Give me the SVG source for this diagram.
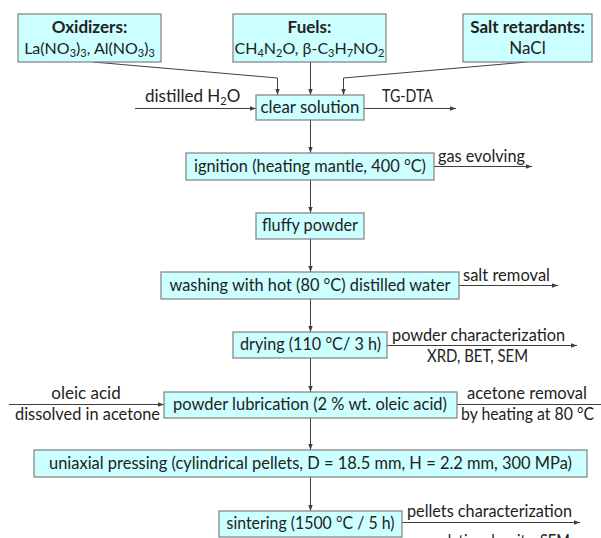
<svg xmlns="http://www.w3.org/2000/svg" width="601" height="538" viewBox="0 0 601 538">
<style>
.box{fill:#ccffff;stroke:#7f7f7f;stroke-width:1.2}
.t{font-family:Lato,"Open Sans","Liberation Sans",sans-serif;font-size:17px;fill:#222222}
.f{font-size:16px}
.b{font-weight:bold}
.m{text-anchor:middle}
.c{fill:none;stroke:#404040;stroke-width:1}
.s{font-size:11px}
</style>
<defs>
<marker id="ah" markerWidth="6" markerHeight="6" refX="6" refY="3" orient="auto" markerUnits="userSpaceOnUse">
<path d="M0,0.8 L6,3 L0,5.2 z" fill="#404040"/>
</marker>
</defs>
<rect width="601" height="538" fill="#ffffff"/>

<g id="connectors">
<polyline class="c" points="93,62 277.5,78 277.5,95" marker-end="url(#ah)"/>
<line class="c" x1="310.5" y1="62" x2="310.5" y2="95" marker-end="url(#ah)"/>
<polyline class="c" points="527,62 343.5,78 343.5,95" marker-end="url(#ah)"/>
<line class="c" x1="135" y1="108.5" x2="256" y2="108.5" marker-end="url(#ah)"/>
<line class="c" x1="364" y1="108.5" x2="456" y2="108.5" marker-end="url(#ah)"/>
<line class="c" x1="310.5" y1="120" x2="310.5" y2="153" marker-end="url(#ah)"/>
<line class="c" x1="434" y1="166.5" x2="532" y2="166.5" marker-end="url(#ah)"/>
<line class="c" x1="310.5" y1="180" x2="310.5" y2="213" marker-end="url(#ah)"/>
<line class="c" x1="310.5" y1="239" x2="310.5" y2="272" marker-end="url(#ah)"/>
<line class="c" x1="459" y1="285.5" x2="558" y2="285.5" marker-end="url(#ah)"/>
<line class="c" x1="310.5" y1="299" x2="310.5" y2="332" marker-end="url(#ah)"/>
<line class="c" x1="387" y1="345.5" x2="577" y2="345.5" marker-end="url(#ah)"/>
<line class="c" x1="310.5" y1="358" x2="310.5" y2="392" marker-end="url(#ah)"/>
<line class="c" x1="9" y1="404.5" x2="164" y2="404.5" marker-end="url(#ah)"/>
<line class="c" x1="457" y1="404.5" x2="601" y2="404.5"/>
<line class="c" x1="310.5" y1="418" x2="310.5" y2="450" marker-end="url(#ah)"/>
<line class="c" x1="310.5" y1="477" x2="310.5" y2="511" marker-end="url(#ah)"/>
<line class="c" x1="402" y1="522.5" x2="580" y2="522.5" marker-end="url(#ah)"/>
</g>

<g id="labels">
<text class="t" x="145" y="102">distilled H<tspan class="s" dy="3">2</tspan><tspan dy="-3">O</tspan></text>
<text class="t" x="382" y="102" textLength="51" lengthAdjust="spacingAndGlyphs">TG-DTA</text>
<text class="t" x="438" y="162" textLength="87" lengthAdjust="spacingAndGlyphs">gas evolving</text>
<text class="t" x="463" y="281" textLength="87" lengthAdjust="spacingAndGlyphs">salt removal</text>
<text class="t" x="392" y="341" textLength="173" lengthAdjust="spacingAndGlyphs">powder characterization</text>
<text class="t" x="427" y="362" textLength="101" lengthAdjust="spacingAndGlyphs">XRD, BET, SEM</text>
<text class="t m" x="86" y="399">oleic acid</text>
<text class="t" x="15" y="420" textLength="145" lengthAdjust="spacingAndGlyphs">dissolved in acetone</text>
<text class="t" x="467" y="399" textLength="120" lengthAdjust="spacingAndGlyphs">acetone removal</text>
<text class="t" x="461" y="420" textLength="133" lengthAdjust="spacingAndGlyphs">by heating at 80 °C</text>
<text class="t" x="407" y="517" textLength="165" lengthAdjust="spacingAndGlyphs">pellets characterization</text>
<text class="t" x="435" y="547" textLength="135" lengthAdjust="spacingAndGlyphs">relative density, SEM</text>
</g>

<g id="oxidizers">
<rect class="box" x="18" y="14" width="143" height="48"/>
<text class="t b m" x="89.5" y="33">Oxidizers:</text>
<text class="t f m" x="89.5" y="54">La(NO<tspan class="s" dy="3">3</tspan><tspan dy="-3">)</tspan><tspan class="s" dy="3">3</tspan><tspan dy="-3">, Al(NO</tspan><tspan class="s" dy="3">3</tspan><tspan dy="-3">)</tspan><tspan class="s" dy="3">3</tspan></text>
</g>

<g id="fuels">
<rect class="box" x="233" y="14" width="153" height="48"/>
<text class="t b m" x="309.5" y="33">Fuels:</text>
<text class="t f m" x="309.5" y="54">CH<tspan class="s" dy="3">4</tspan><tspan dy="-3">N</tspan><tspan class="s" dy="3">2</tspan><tspan dy="-3">O, β-C</tspan><tspan class="s" dy="3">3</tspan><tspan dy="-3">H</tspan><tspan class="s" dy="3">7</tspan><tspan dy="-3">NO</tspan><tspan class="s" dy="3">2</tspan></text>
</g>

<g id="salt">
<rect class="box" x="463" y="14" width="129" height="48"/>
<text class="t b m" x="527.5" y="33">Salt retardants:</text>
<text class="t m" x="527.5" y="54">NaCl</text>
</g>

<g id="clear">
<rect class="box" x="256" y="95" width="108" height="25"/>
<text class="t m" x="310" y="113" textLength="99" lengthAdjust="spacingAndGlyphs">clear solution</text>
</g>

<g id="ignition">
<rect class="box" x="186" y="153" width="248" height="27"/>
<text class="t m" x="310" y="172" textLength="232" lengthAdjust="spacingAndGlyphs">ignition (heating mantle, 400 °C)</text>
</g>

<g id="fluffy">
<rect class="box" x="256" y="213" width="108" height="26"/>
<text class="t m" x="310" y="231" textLength="96" lengthAdjust="spacingAndGlyphs">fluffy powder</text>
</g>

<g id="washing">
<rect class="box" x="161" y="272" width="298" height="27"/>
<text class="t m" x="310" y="291" textLength="281" lengthAdjust="spacingAndGlyphs">washing with hot (80 °C) distilled water</text>
</g>

<g id="drying">
<rect class="box" x="233" y="332" width="154" height="26"/>
<text class="t m" x="310.5" y="350" textLength="141" lengthAdjust="spacingAndGlyphs">drying (110 °C/ 3 h)</text>
</g>

<g id="lubrication">
<rect class="box" x="164" y="392" width="293" height="26"/>
<text class="t m" x="310" y="410" textLength="274" lengthAdjust="spacingAndGlyphs">powder lubrication (2 % wt. oleic acid)</text>
</g>

<g id="pressing">
<rect class="box" x="34" y="450" width="553" height="27"/>
<text class="t m" x="310.5" y="469" textLength="523" lengthAdjust="spacingAndGlyphs">uniaxial pressing (cylindrical pellets, D = 18.5 mm, H = 2.2 mm, 300 MPa)</text>
</g>

<g id="sintering">
<rect class="box" x="219" y="511" width="183" height="26"/>
<text class="t m" x="310.5" y="529" textLength="168" lengthAdjust="spacingAndGlyphs">sintering (1500 °C / 5 h)</text>
</g>
</svg>
